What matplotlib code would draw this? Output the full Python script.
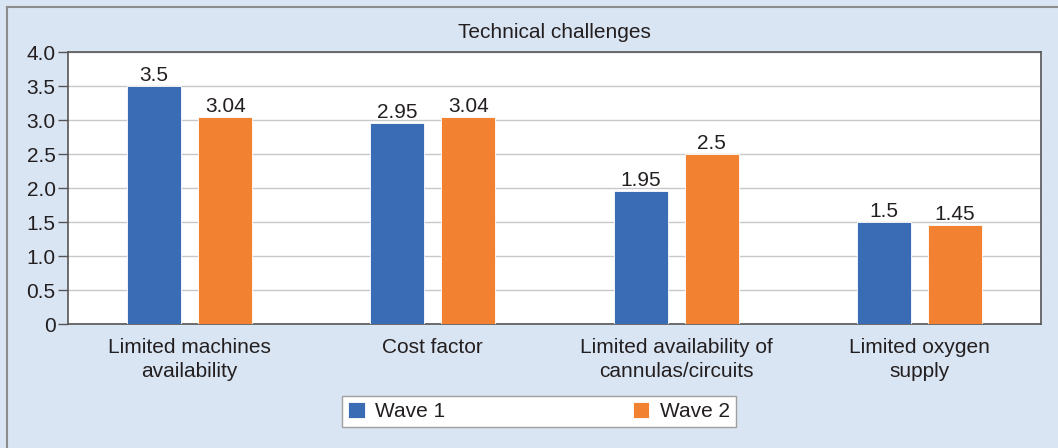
import numpy as np
import matplotlib.pyplot as plt

plt.rcParams['font.family'] = ['Liberation Sans', 'DejaVu Sans']

categories = ["Limited machines\navailability", "Cost factor",
              "Limited availability of\ncannulas/circuits", "Limited oxygen\nsupply"]
wave1 = [3.5, 2.95, 1.95, 1.5]
wave2 = [3.04, 3.04, 2.5, 1.45]
wave1_labels = ["3.5", "2.95", "1.95", "1.5"]
wave2_labels = ["3.04", "3.04", "2.5", "1.45"]
yticks = [0, 0.5, 1.0, 1.5, 2.0, 2.5, 3.0, 3.5, 4.0]
ytick_labels = ["0", "0.5", "1.0", "1.5", "2.0", "2.5", "3.0", "3.5", "4.0"]

blue = "#3a6cb5"
orange = "#f28232"
bg = "#dae5f3"
txt = "#231f20"
fs = 15

fig = plt.figure(figsize=(10.58, 4.48), dpi=100, facecolor=bg)
ax = fig.add_axes([68 / 1058, 1 - 324 / 448, (1041 - 68) / 1058, (324 - 52) / 448])
ax.set_facecolor("white")

x = np.arange(len(categories))
w = 0.222
off = 0.146
b1 = ax.bar(x - off, wave1, w, color=blue, edgecolor="white", linewidth=0.6,
            label="Wave 1", zorder=3)
b2 = ax.bar(x + off, wave2, w, color=orange, edgecolor="white", linewidth=0.6,
            label="Wave 2", zorder=3)
ax.bar_label(b1, labels=wave1_labels, padding=1, fontsize=fs, color=txt)
ax.bar_label(b2, labels=wave2_labels, padding=1, fontsize=fs, color=txt)

ax.set_xlim(-0.5, 3.5)
ax.set_ylim(0, 4.0)
ax.set_yticks(yticks)
ax.set_yticklabels(ytick_labels, fontsize=fs, color=txt)
ax.set_xticks(x)
ax.set_xticklabels(categories, fontsize=fs, color=txt, linespacing=1.35)
ax.tick_params(axis="x", length=0, pad=10)
ax.tick_params(axis="y", length=7, width=1.0, color="#555555", pad=2)
ax.yaxis.grid(True, color="#c8c8c8", linewidth=1.0, zorder=0)
ax.set_axisbelow(True)
for s in ax.spines.values():
    s.set_color("#555555")
    s.set_linewidth(1.2)

fig.text(554 / 1058, 1 - 33 / 448, "Technical challenges", ha="center", va="center",
         fontsize=fs, color=txt)

leg = fig.legend(handles=[b1, b2], loc="center",
                 bbox_to_anchor=(539 / 1058, 1 - 411.5 / 448), ncol=2,
                 fontsize=fs, frameon=True, fancybox=False, framealpha=1,
                 handlelength=0.8, handleheight=0.8, columnspacing=9.0,
                 borderpad=0.3, handletextpad=0.5)
leg.get_frame().set_edgecolor("#a0a0a0")
leg.get_frame().set_linewidth(1.0)
for t in leg.get_texts():
    t.set_color(txt)

# outer border lines along the top and left
fig.add_artist(plt.Line2D([7 / 1058, 1], [1 - 7 / 448, 1 - 7 / 448],
                          transform=fig.transFigure, color="#8c8c8c", linewidth=1.5))
fig.add_artist(plt.Line2D([7 / 1058, 7 / 1058], [0, 1 - 7 / 448],
                          transform=fig.transFigure, color="#8c8c8c", linewidth=1.5))

fig.savefig("out.png", dpi=100, facecolor=bg)
